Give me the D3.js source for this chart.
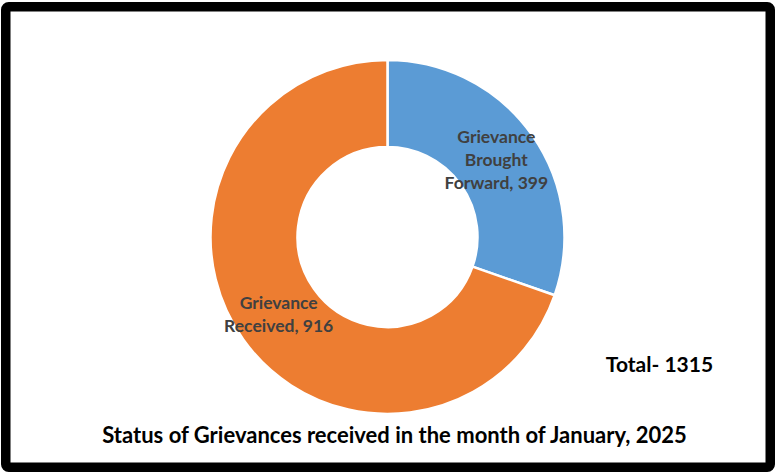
<!DOCTYPE html>
<html>
<head>
<meta charset="utf-8">
<script src="https://cdn.jsdelivr.net/npm/d3@7"></script>
<style>
  html, body { margin: 0; padding: 0; background: #fff; }
  svg { display: block; }
  text { font-family: Lato, "Open Sans", sans-serif; font-weight: bold; }
</style>
</head>
<body>
<svg id="chart" width="778" height="475"></svg>
<script>
const categories = ["Grievance Brought Forward", "Grievance Received"];
const values = [399, 916];
const labelLines = [["Grievance", "Brought", "Forward, 399"], ["Grievance", "Received, 916"]];
const colors = ["#5B9BD5", "#ED7D31"];
const title = "Status of Grievances received in the month of January, 2025";
const total = d3.sum(values);
const totalLabel = "Total- " + total;

const svg = d3.select("#chart");
const W = 778, H = 475;

svg.append("rect").attr("width", W).attr("height", H).attr("fill", "#fff");

// frame
svg.append("rect")
  .attr("x", 5.75).attr("y", 6.75)
  .attr("width", 764.5).attr("height", 460.5)
  .attr("rx", 3)
  .attr("fill", "none")
  .attr("stroke", "#000")
  .attr("stroke-width", 9.5);

const cx = 387.5, cy = 237, outerR = 177, innerR = 90;

const pie = d3.pie().sort(null).value(d => d)(values);
const arc = d3.arc().innerRadius(innerR).outerRadius(outerR);

const g = svg.append("g").attr("transform", `translate(${cx},${cy})`);
g.selectAll("path").data(pie).enter().append("path")
  .attr("d", arc)
  .attr("fill", (d, i) => colors[i])
  .attr("stroke", "#fff")
  .attr("stroke-width", 2.5)
  .attr("stroke-linejoin", "round");

// data labels (positions relative to arc centroid)
const labelOffsets = [[0, -17], [0, -5]];
const lineH = 23;
const lab = g.selectAll("text.lab").data(pie).enter().append("text")
  .attr("class", "lab")
  .attr("text-anchor", "middle")
  .attr("fill", "#404040")
  .attr("font-size", 17.5)
  .attr("transform", (d, i) => {
    const c = arc.centroid(d);
    return `translate(${c[0] + labelOffsets[i][0]},${c[1] + labelOffsets[i][1]})`;
  });
lab.each(function(d, i) {
  const t = d3.select(this);
  labelLines[i].forEach((ln, j) => {
    t.append("tspan").attr("x", 0).attr("y", j * lineH).text(ln);
  });
});

svg.append("text")
  .attr("x", 659.5).attr("y", 372)
  .attr("text-anchor", "middle")
  .attr("font-size", 21)
  .attr("fill", "#000")
  .text(totalLabel);

svg.append("text")
  .attr("x", 394.5).attr("y", 443)
  .attr("text-anchor", "middle")
  .attr("font-size", 22)
  .attr("fill", "#000")
  .text(title);
</script>
</body>
</html>
